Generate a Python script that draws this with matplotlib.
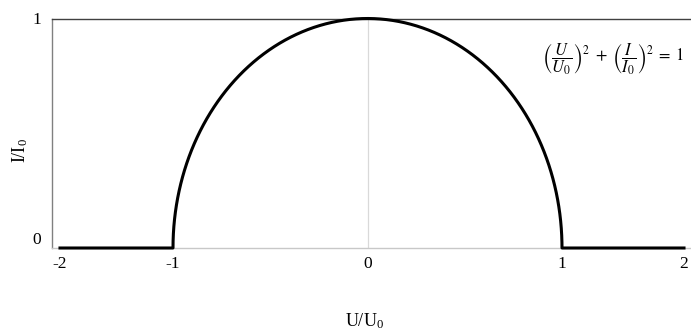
import numpy as np
import matplotlib
matplotlib.use("Agg")
import matplotlib.pyplot as plt

plt.rcParams["font.family"] = ["Liberation Serif", "DejaVu Serif"]
plt.rcParams["mathtext.fontset"] = "custom"
plt.rcParams["mathtext.rm"] = "Liberation Serif"
plt.rcParams["mathtext.it"] = "Liberation Serif:italic"

# Breakpoints of the characteristic along U/U0 (I/I0 = 0 outside [-1, 1])
u_left = [-2.0, -1.0]
u_right = [1.0, 2.0]
i_flat = [0.0, 0.0]
x_ticks = [-2, -1, 0, 1, 2]
y_ticks = [0, 1]

# Uneven category-style spacing of the horizontal axis
axis_knots = np.array([-2.0, -1.0, 1.0, 2.0])
axis_pos = np.array([60.0, 173.0, 562.0, 684.0])


def _pw(x, xs, ys):
    x = np.asarray(x, dtype=float)
    y = np.interp(x, xs, ys)
    lo = (ys[1] - ys[0]) / (xs[1] - xs[0])
    hi = (ys[-1] - ys[-2]) / (xs[-1] - xs[-2])
    y = np.where(x < xs[0], ys[0] + (x - xs[0]) * lo, y)
    y = np.where(x > xs[-1], ys[-1] + (x - xs[-1]) * hi, y)
    return y


def fwd(x):
    return _pw(x, axis_knots, axis_pos)


def inv(p):
    return _pw(p, axis_pos, axis_knots)


# Semicircle (U/U0)^2 + (I/I0)^2 = 1
theta = np.linspace(np.pi, 0, 400)
u_arc = np.cos(theta)
i_arc = np.sqrt(np.clip(1 - u_arc ** 2, 0, None))

u_all = np.concatenate([u_left, u_arc, u_right])
i_all = np.concatenate([i_flat, i_arc, i_flat])

fig = plt.figure(figsize=(6.91, 3.31), dpi=100)
ax = fig.add_axes([52 / 691, 83 / 331, 638 / 691, 229.5 / 331])
ax.set_xscale("function", functions=(fwd, inv))
ax.set_xlim(inv(52.0), inv(690.0))
ax.set_ylim(0, 1)

ax.axvline(0, color="#d9d9d9", lw=0.9, zorder=1)
ax.plot(u_all, i_all, color="black", lw=2.2, solid_joinstyle="round",
        clip_on=False, zorder=3)

ax.spines["right"].set_visible(False)
ax.spines["top"].set_color("#404040")
ax.spines["top"].set_linewidth(1.0)
ax.spines["left"].set_color("#808080")
ax.spines["left"].set_linewidth(1.0)
ax.spines["bottom"].set_color("#c8c8c8")
ax.spines["bottom"].set_linewidth(1.0)

ax.set_xticks(x_ticks)
ax.set_xticklabels([str(v) for v in x_ticks])
ax.set_yticks(y_ticks)
ax.set_yticklabels([str(v) for v in y_ticks])
ax.tick_params(axis="both", length=0, labelsize=12.5, colors="black")
ax.tick_params(axis="x", pad=6)
ax.tick_params(axis="y", pad=8)
ax.minorticks_off()
ax.get_yticklabels()[0].set_verticalalignment("bottom")

fig.text(365 / 691, 1 - 321 / 331, "U/U$_0$", ha="center", va="center",
         fontsize=13)
fig.text(20 / 691, 1 - 150 / 331, "I/I$_0$", ha="center", va="center",
         rotation=90, fontsize=13)

fig.text(613 / 691, 1 - 59 / 331,
         r"$\left(\dfrac{U}{U_0}\right)^{2}\;+\;\left(\dfrac{I}{I_0}\right)^{2}\;=\;1$",
         ha="center", va="center", fontsize=12, math_fontfamily="stix")

fig.savefig("out.png", dpi=100)
